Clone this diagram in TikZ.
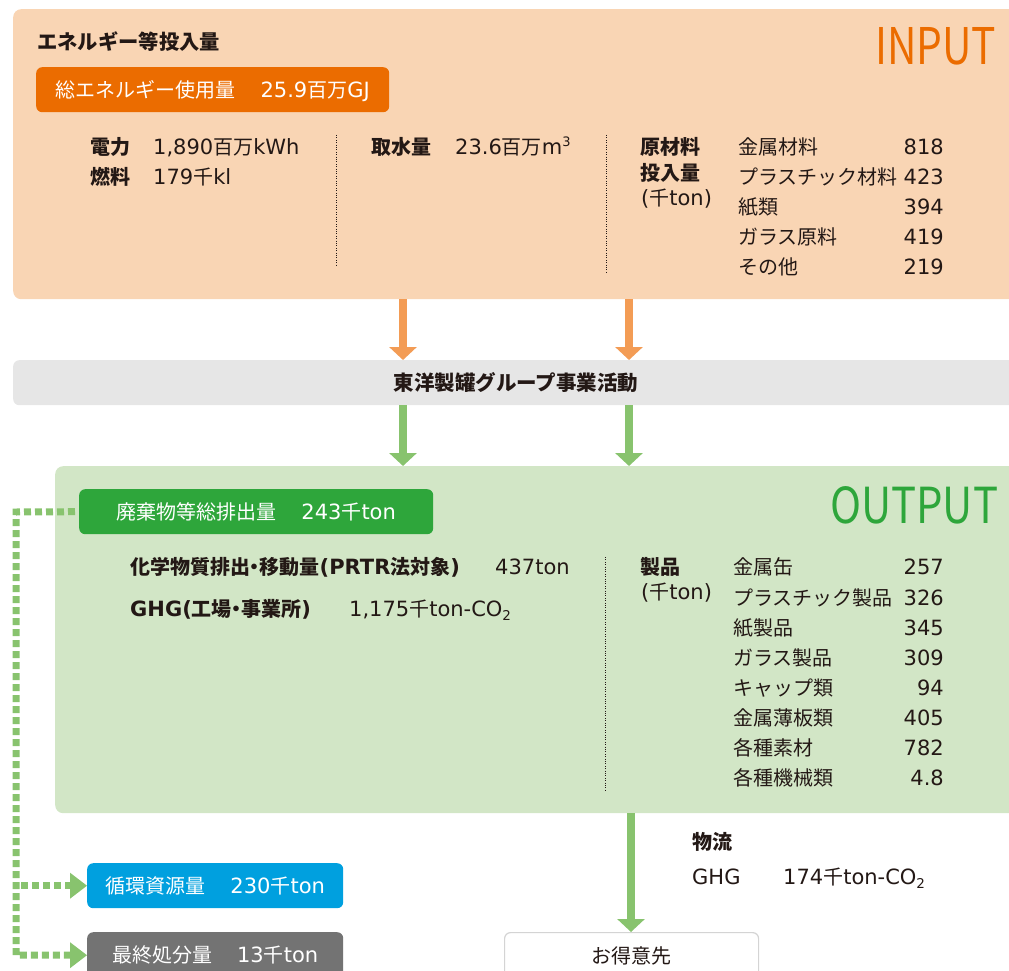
\documentclass[tikz,border=0pt]{standalone}
\usepackage{fontspec}
\setmainfont{DejaVu Sans}
\newfontfamily\jp[Scale=0.952]{Noto Sans CJK JP}
\newfontfamily\jpbig{Noto Sans CJK JP}
\newcommand\J[1]{{\jp #1}}
\usetikzlibrary{arrows.meta}
\definecolor{inbg}{HTML}{F9D5B4}
\definecolor{outbg}{HTML}{D2E6C6}
\definecolor{barbg}{HTML}{E6E6E6}
\definecolor{orangel}{HTML}{EB6C00}
\definecolor{oarrow}{HTML}{F39C55}
\definecolor{garrow}{HTML}{88C36E}
\definecolor{greenl}{HTML}{2EA63B}
\definecolor{bluel}{HTML}{00A0DF}
\definecolor{grayl}{HTML}{737373}
\definecolor{ink}{HTML}{231815}
\definecolor{boxline}{HTML}{D4D4D4}
\newcommand\mysub[1]{\raisebox{-0.2em}{\fontsize{13.5}{13.5}\selectfont #1}}
\newcommand\mysup[1]{\raisebox{0.4em}{\fontsize{13}{13}\selectfont #1}}
\newcommand\mdot{\kern-0.26em・\kern-0.26em}
\newcommand\wsp{\J{　}\kern5pt}
\begin{document}
\begin{tikzpicture}[x=1pt,y=-1pt,
  every node/.style={font=\fontsize{21}{24}\selectfont},
  t/.style={inner sep=0pt, anchor=west, text height=15pt, text depth=0pt, text=ink},
  tr/.style={t, anchor=east},
  b/.style={t, font=\fontsize{21}{24}\selectfont\bfseries},
  panel/.style={rectangle, rounded corners=8pt, anchor=north west, inner sep=0pt},
  lab/.style={rectangle, rounded corners=6pt, anchor=north west, inner sep=0pt,
    text=white, text height=15pt, text depth=0pt, minimum height=45pt},
  bigarrow/.style={line width=8pt, -{Triangle[width=27pt,length=13pt]}},
  dotline/.style={line width=7pt, dash pattern=on 7pt off 4pt, draw=garrow},
  sep/.style={draw=ink, line width=0.6pt, dash pattern=on 0.8pt off 1.6pt},
]
\useasboundingbox (0,0) rectangle (1009,971);
\clip (0,0) rectangle (1009,971);

% ---------- INPUT ----------
\node[panel, fill=inbg, minimum width=1020pt, minimum height=290pt] (inbox) at (13,9) {};
\node[b] (inhead) at (37,42) {{\jpbig\fontsize{20.3}{23}\selectfont エネルギー等投入量}};
\node[inner sep=0pt, anchor=base west, text=orangel] (intitle) at (875,65)
  {\resizebox{121pt}{37pt}{\jpbig INPUT}};
\node[lab, fill=orangel, minimum width=353pt] (energy) at (36,67)
  {\J{総エネルギー使用量}\wsp 25.9\J{百万}GJ};

\node[b] (den) at (90,147) {\J{電力}};
\node[t] (denv) at (153,147) {1,890\J{百万}kWh};
\node[b] (nen) at (90,177) {\J{燃料}};
\node[t] (nenv) at (153,177) {179\J{千}kl};

\coordinate (s1t) at (336,135);
\coordinate (s1b) at (336,265);
\draw[sep] (s1t) -- (s1b);

\node[b] (water) at (371,147) {\J{取水量}};
\node[t] (waterv) at (455,147) {23.6\J{百万}m\mysup{3}};

\coordinate (s2t) at (606,135);
\coordinate (s2b) at (606,273);
\draw[sep] (s2t) -- (s2b);

\node[b] (raw1) at (640,147) {\J{原材料}};
\node[b] (raw2) at (640,173) {\J{投入量}};
\node[t] (raw3) at (641,198) {(\J{千}ton)};

\node[t] (m1) at (738,147) {\J{金属材料}};      \node[tr] (m1v) at (944,147) {818};
\node[t] (m2) at (738,177) {\J{プラスチック材料}}; \node[tr] (m2v) at (944,177) {423};
\node[t] (m3) at (738,207) {\J{紙類}};          \node[tr] (m3v) at (944,207) {394};
\node[t] (m4) at (738,237) {\J{ガラス原料}};     \node[tr] (m4v) at (944,237) {419};
\node[t] (m5) at (738,267) {\J{その他}};        \node[tr] (m5v) at (944,267) {219};

% ---------- BAR ----------
\node[panel, rounded corners=6pt, fill=barbg, minimum width=1020pt, minimum height=45pt] (bar) at (13,360) {};
\node[b, anchor=center] (bartext) at (516,383) {{\jpbig\fontsize{20.5}{23}\selectfont 東洋製罐グループ事業活動}};

% ---------- OUTPUT ----------
\node[panel, fill=outbg, minimum width=970pt, minimum height=347pt] (outbox) at (55,466) {};
\node[inner sep=0pt, anchor=base west, text=greenl] (outtitle) at (830,523)
  {\resizebox{168pt}{37pt}{\jpbig OUTPUT}};
\node[lab, fill=greenl, minimum width=354pt] (waste) at (79,489)
  {\J{廃棄物等総排出量}\wsp 243\J{千}ton};

\node[b] (prtr) at (130,567) {\J{化学物質排出\mdot 移動量}(PRTR\J{法対象})};
\node[t] (prtrv) at (495,567) {437ton};
\node[b] (ghg) at (130,609) {GHG(\J{工場\mdot 事業所})};
\node[t] (ghgv) at (349,609) {1,175\J{千}ton-CO\mysub{2}};

\coordinate (s3t) at (605,557);
\coordinate (s3b) at (605,790);
\draw[sep] (s3t) -- (s3b);

\node[b] (prod1) at (640,567) {\J{製品}};
\node[t] (prod2) at (641,592) {(\J{千}ton)};

\node[t] (p1) at (733,567) {\J{金属缶}};          \node[tr] (p1v) at (944,567) {257};
\node[t] (p2) at (733,598) {\J{プラスチック製品}};  \node[tr] (p2v) at (944,598) {326};
\node[t] (p3) at (733,628) {\J{紙製品}};          \node[tr] (p3v) at (944,628) {345};
\node[t] (p4) at (733,658) {\J{ガラス製品}};       \node[tr] (p4v) at (944,658) {309};
\node[t] (p5) at (733,688) {\J{キャップ類}};       \node[tr] (p5v) at (944,688) {94};
\node[t] (p6) at (733,718) {\J{金属薄板類}};       \node[tr] (p6v) at (944,718) {405};
\node[t] (p7) at (733,748) {\J{各種素材}};         \node[tr] (p7v) at (944,748) {782};
\node[t] (p8) at (733,778) {\J{各種機械類}};       \node[tr] (p8v) at (944,778) {4.8};

% ---------- bottom boxes ----------
\node[lab, fill=bluel, minimum width=256pt, minimum height=45pt] (recyc) at (87,863)
  {\J{循環資源量}\wsp 230\J{千}ton};
\node[lab, fill=grayl, minimum width=256pt, minimum height=46pt] (final) at (87,932)
  {\J{最終処分量}\wsp 13\J{千}ton};
\node[lab, fill=white, draw=boxline, line width=1.2pt, text=ink, minimum width=254pt, minimum height=46pt] (client) at (504,932)
  {\J{お得意先}};

\node[b] (logi) at (692,842) {\J{物流}};
\node[t] (logig) at (692,877) {GHG};
\node[t] (logiv) at (783,877) {174\J{千}ton-CO\mysub{2}};

% ---------- connectors ----------
\coordinate (ax1) at (403,0);
\coordinate (ax2) at (629,0);
\coordinate (ax3) at (631,0);
\draw[bigarrow, draw=oarrow] (inbox.south -| ax1) -- (bar.north -| ax1);
\draw[bigarrow, draw=oarrow] (inbox.south -| ax2) -- (bar.north -| ax2);
\draw[bigarrow, draw=garrow] (bar.south -| ax1) -- (outbox.north -| ax1);
\draw[bigarrow, draw=garrow] (bar.south -| ax2) -- (outbox.north -| ax2);
\draw[bigarrow, draw=garrow] (outbox.south -| ax3) -- (client.north -| ax3);

\coordinate (corner) at (16,512);
\draw[dotline] ([xshift=-4pt]waste.west) -- (corner) |- ([xshift=-17pt]final.west);
\fill[garrow] (final.west) -- ++(-17,-13) -- ++(0,26) -- cycle;
\draw[dotline] (corner |- recyc.west) ++(5,0) -- ([xshift=-17pt]recyc.west);
\fill[garrow] (recyc.west) -- ++(-17,-13) -- ++(0,26) -- cycle;
\end{tikzpicture}
\end{document}
